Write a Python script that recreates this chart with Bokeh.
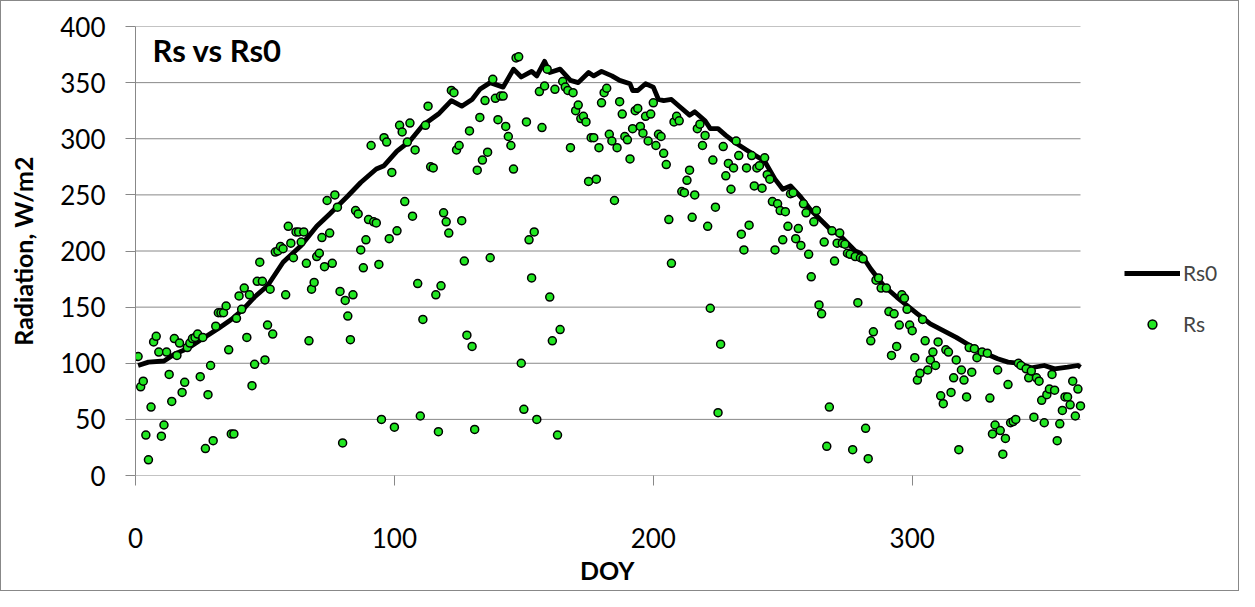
from bokeh.plotting import figure
from bokeh.models import Range1d, FixedTicker, Legend, Label, Title
from bokeh.embed import file_html
from bokeh.resources import INLINE

# Rs0 (clear-sky radiation)
rs0_doy = [1, 5, 11, 15, 20, 26, 32, 37, 42, 46, 51, 57, 64, 70, 75, 82, 87, 93, 96, 101,
           106, 111, 117, 122, 126, 130, 133, 137, 142, 146, 149, 153, 155, 158, 160, 164,
           168, 171, 175, 177, 180, 184, 187, 191, 192, 194, 197, 200, 202, 204, 207, 210,
           214, 216, 220, 222, 225, 228, 232, 236, 243, 247, 250, 253, 257, 261, 265, 268,
           272, 278, 280, 284, 289, 294, 302, 307, 312, 317, 325, 329, 333, 337, 341, 346,
           351, 355, 360, 364, 365]
rs0_val = [98, 101, 102, 108, 113, 122, 131, 139, 149, 159, 169, 190, 205, 222, 233, 249, 261, 273, 276, 289,
           298, 312, 322, 334, 329, 335, 344, 350, 346, 362, 355, 360, 356, 369, 359, 362,
           352, 350, 359, 356, 360, 356, 352, 349, 343, 343, 349, 346, 335, 334, 335, 329,
           321, 324, 316, 309, 309, 303, 296, 290, 280, 264, 255, 258, 248, 236, 227, 220,
           214, 200, 198, 184, 169, 159, 144, 135, 129, 123, 112, 108, 104, 101, 100, 96,
           98, 95, 96.5, 98, 96.5]

# Rs (measured radiation) read from the green points
rs_doy = [1, 2, 3, 4, 5, 6, 7, 8, 9, 10, 11, 12, 13, 14, 15, 16, 17, 18, 19, 20,
          21, 22, 23, 24, 25, 26, 27, 28, 29, 30, 31, 32, 33, 34, 35, 36, 37, 38, 39, 40,
          41, 42, 43, 44, 45, 46, 47, 48, 49, 50, 51, 52, 53, 54, 55, 56, 57, 58, 59, 60,
          61, 62, 63, 64, 65, 66, 67, 68, 69, 70, 71, 72, 73, 74, 75, 76, 77, 78, 79, 80,
          81, 82, 83, 84, 85, 86, 87, 88, 89, 90, 91, 92, 93, 94, 95, 96, 97, 98, 99, 100,
          101, 102, 103, 104, 105, 106, 107, 108, 109, 110, 111, 112, 113, 114, 115, 116, 117, 118, 119, 120,
          121, 122, 123, 124, 125, 126, 127, 128, 129, 130, 131, 132, 133, 134, 135, 136, 137, 138, 139, 140,
          141, 142, 143, 144, 145, 146, 147, 148, 149, 150, 151, 152, 153, 154, 155, 156, 157, 158, 159, 160,
          161, 162, 163, 164, 165, 166, 167, 168, 169, 170, 171, 172, 173, 174, 175, 176, 177, 178, 179, 180,
          181, 182, 183, 184, 185, 186, 187, 188, 189, 190, 191, 192, 193, 194, 195, 196, 197, 198, 199, 200,
          201, 202, 203, 204, 205, 206, 207, 208, 209, 210, 211, 212, 213, 214, 215, 216, 217, 218, 219, 220,
          221, 222, 223, 224, 225, 226, 227, 228, 229, 230, 231, 232, 233, 234, 235, 236, 237, 238, 239, 240,
          241, 242, 243, 244, 245, 246, 247, 248, 249, 250, 251, 252, 253, 254, 255, 256, 257, 258, 259, 260,
          261, 262, 263, 264, 265, 266, 267, 268, 269, 270, 271, 272, 273, 274, 275, 276, 277, 278, 279, 280,
          281, 282, 283, 284, 285, 286, 287, 288, 290, 291, 292, 293, 294, 295, 296, 297, 298, 299, 300,
          301, 302, 303, 304, 305, 306, 307, 308, 309, 310, 311, 312, 313, 314, 315, 316, 317, 318, 319, 320,
          321, 322, 323, 324, 325, 327, 329, 330, 331, 332, 333, 334, 335, 336, 337, 338, 339, 340,
          341, 342, 344, 345, 346, 347, 348, 349, 350, 351, 352, 353, 354, 355, 356, 357, 358, 359, 360,
          361, 362, 363, 364, 365]
rs_val = [106, 79, 84, 36, 14, 61, 119, 124, 110, 35, 45, 110, 90, 66, 122, 107, 118, 74, 83, 114,
          118, 122, 123, 126, 88, 123, 24, 72, 98, 31, 133, 145, 145, 145, 151, 112, 37, 37, 140, 160,
          148, 167, 123, 161, 80, 99, 173, 190, 173, 103, 134, 166, 126, 199, 200, 204, 202, 161, 222, 207,
          194, 217, 217, 208, 217, 189, 120, 166, 172, 195, 198, 212, 186, 245, 216, 189, 250, 239, 164, 29,
          156, 142, 121, 161, 236, 233, 201, 185, 210, 228, 294, 226, 225, 188, 50, 301, 297, 211, 270, 43,
          218, 312, 306, 244, 297, 314, 231, 290, 171, 53, 139, 312, 329, 275, 274, 161, 39, 169, 234, 226,
          216, 343, 341, 290, 294, 227, 191, 125, 307, 115, 41, 272, 319, 281, 334, 288, 194, 353, 336, 317,
          338, 338, 311, 302, 294, 273, 372, 373, 100, 59, 315, 210, 176, 217, 50, 342, 310, 347, 362, 159,
          120, 344, 36, 130, 351, 346, 343, 292, 341, 325, 330, 318, 320, 315, 262, 301, 301, 264, 292, 332,
          341, 345, 304, 298, 245, 292, 333, 322, 302, 299, 282, 309, 325, 327, 311, 305, 320, 298, 322, 332,
          294, 304, 302, 287, 277, 228, 189, 315, 320, 316, 253, 252, 263, 272, 230, 250, 309, 313, 294, 303,
          222, 149, 281, 239, 56, 117, 293, 267, 278, 255, 274, 298, 285, 215, 201, 274, 223, 285, 258, 274,
          276, 256, 283, 268, 264, 244, 201, 242, 236, 210, 235, 222, 251, 252, 211, 220, 205, 242, 234, 197,
          177, 226, 236, 152, 144, 208, 26, 61, 218, 191, 207, 216, 207, 206, 198, 197, 23, 195, 154, 194,
          193, 42, 15, 120, 128, 174, 176, 167, 167, 146, 107, 144, 115, 134, 161, 158, 148, 134, 129,
          105, 85, 91, 139, 120, 94, 103, 110, 98, 119, 71, 64, 112, 110, 74, 87, 103, 23, 94, 85,
          70, 114, 92, 113, 105, 110, 109, 69, 37, 45, 94, 40, 19, 33, 81, 47, 48, 50,
          100, 98, 95, 87, 93, 52, 87, 84, 67, 47, 72, 77, 90, 76, 31, 46, 58, 70, 70,
          63, 84, 53, 77, 62]

x_ticks = [0, 100, 200, 300]
y_ticks = [0, 50, 100, 150, 200, 250, 300, 350, 400]
X_MAX = 365

FONT = "Lato"
GRID = "#888888"

FIG_W, FIG_H = 1239, 591
LEFT = 134
PLOT_W = 945              # width of the data area (0..365)
frame_w = FIG_W - LEFT    # frame extends to the right edge to host the legend
x_end = X_MAX * frame_w / PLOT_W

p = figure(width=FIG_W, height=FIG_H, output_backend="svg", toolbar_location=None,
           x_range=Range1d(0, x_end), y_range=Range1d(0, 400),
           min_border_left=LEFT, min_border_right=0, min_border_top=25, min_border_bottom=117)
p.styles = {"border": "1px solid #888888"}
p.outline_line_color = None
p.background_fill_color = "white"
p.border_fill_color = "white"

p.xgrid.visible = False
p.ygrid.visible = False

# horizontal gridlines limited to the data area (0..365)
p.segment(x0=[0] * len(y_ticks), x1=[X_MAX] * len(y_ticks), y0=y_ticks, y1=y_ticks,
          line_color=GRID, line_width=1)

for ax in (p.xaxis[0], p.yaxis[0]):
    ax.axis_line_color = GRID
    ax.major_tick_line_color = GRID
    ax.major_tick_in = 0
    ax.major_tick_out = 10
    ax.minor_tick_out = 0
    ax.minor_tick_in = 0
    ax.major_label_text_font = FONT
    ax.major_label_text_font_size = "26px"
    ax.major_label_text_color = "black"
    ax.axis_label_text_font = FONT
    ax.axis_label_text_font_style = "bold"
    ax.axis_label_text_font_size = "25px"
    ax.axis_label_text_color = "black"

p.xaxis.axis_line_color = None
p.xaxis.ticker = FixedTicker(ticks=x_ticks)
p.yaxis.ticker = FixedTicker(ticks=y_ticks)
p.xaxis.major_label_standoff = 42
p.yaxis.major_label_standoff = 20
p.yaxis.axis_label = "Radiation, W/m2"
p.yaxis.axis_label_standoff = 19

line = p.line(rs0_doy, rs0_val, line_color="black", line_width=4.8, line_join="round")
sc = p.scatter(rs_doy, rs_val, marker="circle", size=8, fill_color="#22E622",
               line_color="black", line_width=1.5)

# x axis title centred under the data area (0..365)
xt = Title(text="DOY", align="left", offset=PLOT_W / 2 - 28, standoff=4,
           text_font=FONT, text_font_style="bold", text_font_size="25px",
           text_color="black")
p.add_layout(xt, "below")

legend = Legend(items=[("Rs0", [line]), ("Rs", [sc])], location=(989, 139))
legend.padding = 0
legend.margin = 0
legend.spacing = 26
legend.glyph_width = 56
legend.glyph_height = 22
legend.label_height = 22
legend.label_standoff = 3
legend.label_text_font = FONT
legend.label_text_font_size = "21px"
legend.border_line_color = None
legend.background_fill_alpha = 0
p.add_layout(legend)

title = Label(x=17, y=445, x_units="screen", y_units="screen", text="Rs vs Rs0",
              text_font=FONT, text_font_style="bold", text_font_size="31px",
              text_baseline="top", text_color="black")
p.add_layout(title)

open("out.html", "w").write(file_html(p, INLINE))
